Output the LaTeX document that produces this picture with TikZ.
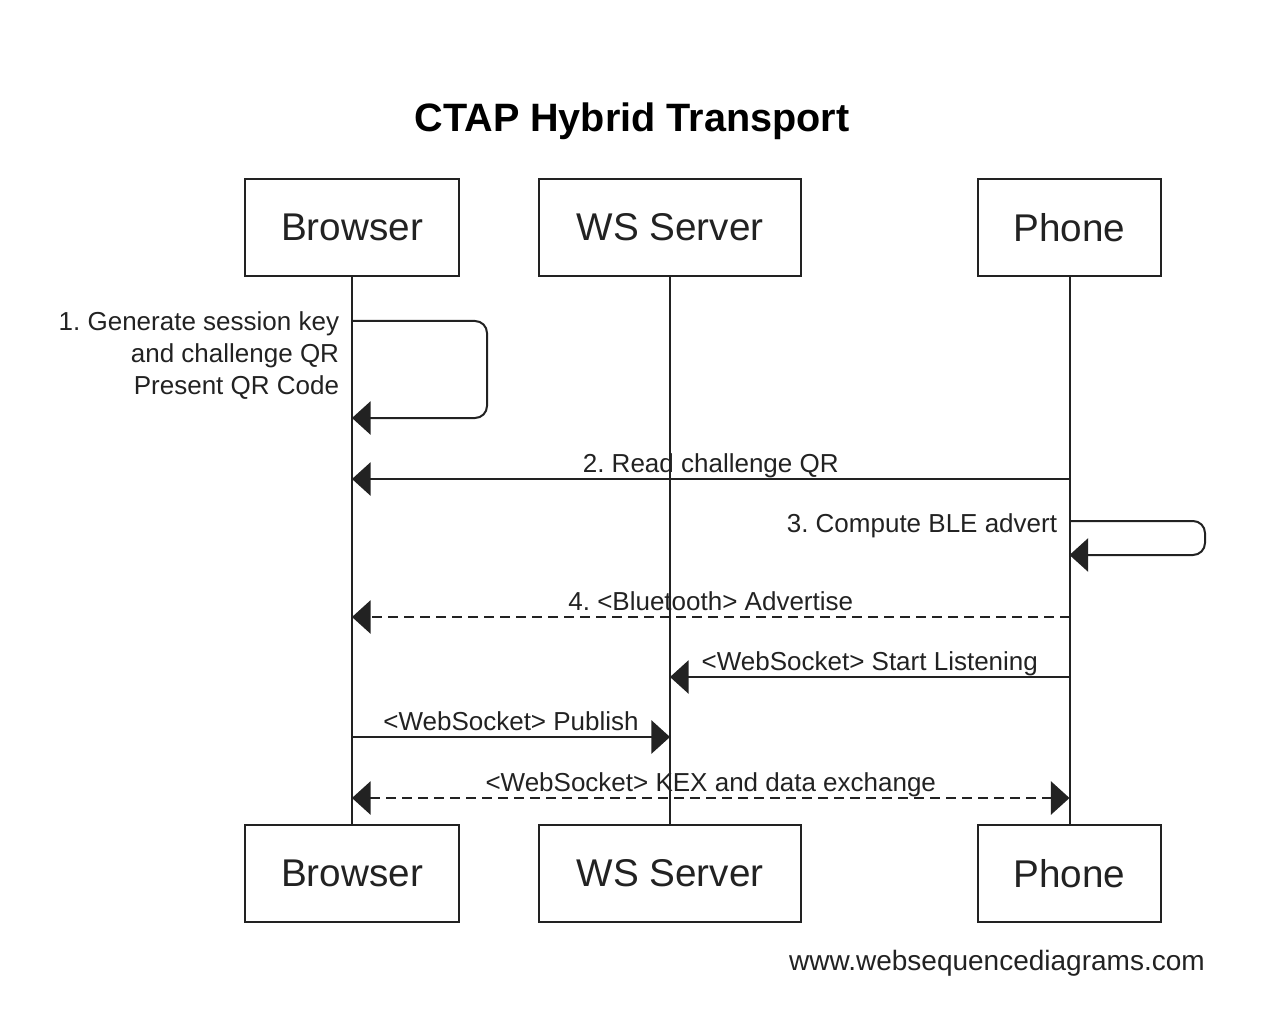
\documentclass[tikz,border=0pt]{standalone}
\usepackage{fontspec}
\setmainfont{Liberation Sans}
\usetikzlibrary{arrows.meta}
\definecolor{ink}{RGB}{34,34,34}
\frenchspacing
\begin{document}
\begin{tikzpicture}[x=0.75pt,y=-0.75pt,
	actor/.style={draw=ink,line width=1.5pt,minimum width=#1,minimum height=72.75pt,inner sep=0pt,font=\fontsize{29}{34}\selectfont,text=ink},
	life/.style={draw=ink,line width=1.5pt},
	msg/.style={ink,line width=1.5pt,-{Triangle[length=14pt,width=25pt]}},
	reply/.style={msg,dash pattern=on 7.5pt off 4.5pt},
	both/.style={reply,{Triangle[length=14pt,width=25pt]}-{Triangle[length=14pt,width=25pt]}},
	lbl/.style={font=\fontsize{19.5}{24}\selectfont,text=ink,inner sep=2pt},
	over/.style={lbl,anchor=base,yshift=5.25pt}]
		\useasboundingbox (0,0) rectangle (1280,1030);
		\node[font=\bfseries\fontsize{29.7}{34}\selectfont,anchor=base] (title) at (632,132) {CTAP Hybrid Transport};
		\node[actor=160.5pt] (brTop) at (352,227.5) {Browser};
		\node[actor=196.5pt] (wsTop) at (670,227.5) {WS Server};
		\node[actor=137.25pt] (phTop) at (1069.5,227.5) {Phone};
		\node[actor=160.5pt] (brBot) at (352,873.5) {Browser};
		\node[actor=196.5pt] (wsBot) at (670,873.5) {WS Server};
		\node[actor=137.25pt] (phBot) at (1069.5,873.5) {Phone};
		\draw[life] (brTop) -- (brBot);
		\draw[life] (wsTop) -- (wsBot);
		\draw[life] (phTop) -- (phBot);
		\draw[msg,rounded corners=9pt] (brTop.south |- 0,321) -- (487,321) -- (487,418) -- (brTop.south |- 0,418);
		\node[lbl,align=right,anchor=north east] (genKey) at (342,309) {1. Generate session key\\and challenge QR\\Present QR Code};
		\draw[msg] (phTop.south |- 0,479) -- node[over] (readQR) {2. Read challenge QR} (brTop.south |- 0,479);
		\draw[msg,rounded corners=9pt] (phTop.south |- 0,521) -- (1205,521) -- (1205,555) -- (phTop.south |- 0,555);
		\node[lbl,anchor=east] (bleAdv) at (1060,526) {3. Compute BLE advert};
		\draw[reply] (phTop.south |- 0,617) -- node[over] (advert) {4. <Bluetooth> Advertise} (brTop.south |- 0,617);
		\draw[msg] (phTop.south |- 0,677) -- node[over] (listen) {<WebSocket> Start Listening} (wsTop.south |- 0,677);
		\draw[msg] (brTop.south |- 0,737) -- node[over] (publish) {<WebSocket> Publish} (wsTop.south |- 0,737);
		\draw[both] (brTop.south |- 0,798) -- node[over] (kex) {<WebSocket> KEX and data exchange} (phTop.south |- 0,798);
		\node[font=\fontsize{21}{25}\selectfont,text=ink,anchor=east,inner sep=0pt] (site) at (1205,963) {www.websequencediagrams.com};
\end{tikzpicture}
\end{document}
